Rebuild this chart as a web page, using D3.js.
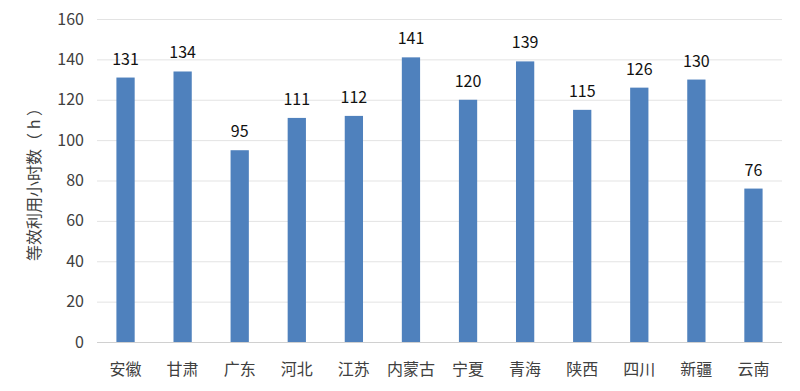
<!DOCTYPE html>
<html>
<head>
<meta charset="utf-8">
<script src="https://cdn.jsdelivr.net/npm/d3@7"></script>
<style>
  body { margin: 0; background: #fff; }
  text { font-family: "Microsoft YaHei", "Noto Sans CJK SC", sans-serif; }
</style>
</head>
<body>
<svg id="chart" width="800" height="391"></svg>
<script>
const provinces = ["安徽", "甘肃", "广东", "河北", "江苏", "内蒙古", "宁夏", "青海", "陕西", "四川", "新疆", "云南"];
const hours = [131, 134, 95, 111, 112, 141, 120, 139, 115, 126, 130, 76];
const yTicks = [0, 20, 40, 60, 80, 100, 120, 140, 160];
const yTitle = "等效利用小时数（ h ）";

const margin = { top: 19, right: 18, bottom: 49, left: 97 };
const width = 800, height = 391;
const svg = d3.select("#chart");

const x = d3.scaleBand()
    .domain(provinces)
    .range([margin.left, width - margin.right])
    .paddingInner(0.68)
    .paddingOuter(0.34);

const y = d3.scaleLinear()
    .domain([0, 160])
    .range([height - margin.bottom, margin.top]);

// gridlines
svg.append("g")
    .selectAll("line")
    .data(yTicks)
    .join("line")
    .attr("x1", margin.left)
    .attr("x2", width - margin.right)
    .attr("y1", d => y(d) + 0.5)
    .attr("y2", d => y(d) + 0.5)
    .attr("stroke", d => d === 0 ? "#d0d0d0" : "#e3e3e3")
    .attr("stroke-width", 1);

// y tick labels
svg.append("g")
    .selectAll("text")
    .data(yTicks)
    .join("text")
    .attr("x", 84)
    .attr("y", d => y(d))
    .attr("dy", "0.35em")
    .attr("text-anchor", "end")
    .attr("font-size", 16)
    .attr("fill", "#404040")
    .text(d => d);

// bars
svg.append("g")
    .selectAll("rect")
    .data(hours)
    .join("rect")
    .attr("x", (d, i) => x(provinces[i]))
    .attr("width", x.bandwidth())
    .attr("y", d => y(d))
    .attr("height", d => y(0) - y(d))
    .attr("fill", "#4f81bd");

// value labels
svg.append("g")
    .selectAll("text")
    .data(hours)
    .join("text")
    .attr("x", (d, i) => x(provinces[i]) + x.bandwidth() / 2)
    .attr("y", d => y(d) - 13)
    .attr("text-anchor", "middle")
    .attr("font-size", 16)
    .attr("fill", "#111")
    .text(d => d);

// category labels
svg.append("g")
    .selectAll("text")
    .data(provinces)
    .join("text")
    .attr("x", d => x(d) + x.bandwidth() / 2)
    .attr("y", 375)
    .attr("text-anchor", "middle")
    .attr("font-size", 16)
    .attr("fill", "#404040")
    .text(d => d);

// y axis title
svg.append("text")
    .attr("transform", `translate(40,${(y(0) + y(160)) / 2}) rotate(-90)`)
    .attr("text-anchor", "middle")
    .attr("font-size", 16)
    .attr("fill", "#404040")
    .text(yTitle);
</script>
</body>
</html>
